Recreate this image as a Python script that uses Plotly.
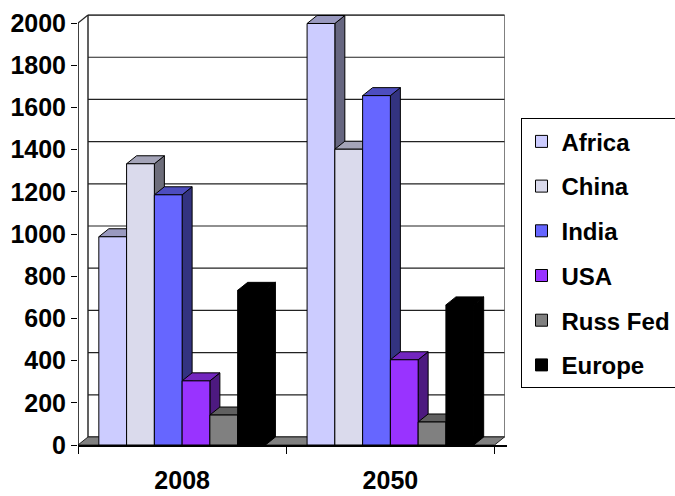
import plotly.graph_objects as go

categories = ["2008", "2050"]
series_names = ["Africa", "China", "India", "USA", "Russ Fed", "Europe"]
africa = [987, 1998]
china = [1333, 1402]
india = [1186, 1656]
usa = [304, 404]
russ_fed = [142, 109]
europe = [733, 664]
y_ticks = [0, 200, 400, 600, 800, 1000, 1200, 1400, 1600, 1800, 2000]

values = [africa, china, india, usa, russ_fed, europe]
front_colors = ["#CCCCFF", "#DADAEC", "#6666FF", "#9933FF", "#808080", "#000000"]
top_colors = ["#9999BF", "#A4A4B8", "#4D4DBF", "#7326BF", "#606060", "#000000"]
side_colors = ["#666680", "#6D6D7A", "#333380", "#4D1A80", "#404040", "#000000"]

n = len(series_names)
group_w = 0.8
bw = group_w / n
DX = 0.048   # depth offset (x units)
DY = 38      # depth offset (y units)
YMAX = 2000

fig = go.Figure()
shapes = []

def path(pts):
    return "M " + " L ".join(f"{x},{y}" for x, y in pts) + " Z"

# back wall
shapes.append(dict(type="path", xref="x", yref="y", layer="below",
                   path=path([(-0.5 + DX, DY), (1.5 + DX, DY), (1.5 + DX, YMAX + DY), (-0.5 + DX, YMAX + DY)]),
                   fillcolor="white", line=dict(color="#808080", width=1)))
# gridlines on back wall
for t in y_ticks:
    shapes.append(dict(type="line", xref="x", yref="y", layer="below",
                       x0=-0.5 + DX, x1=1.5 + DX, y0=t + DY, y1=t + DY,
                       line=dict(color="#222222", width=1.2)))
# left wall edges
shapes.append(dict(type="line", xref="x", yref="y", layer="below",
                   x0=-0.5 + DX, x1=-0.5 + DX, y0=DY, y1=YMAX + DY, line=dict(color="#222222", width=1.2)))
shapes.append(dict(type="line", xref="x", yref="y", layer="below",
                   x0=-0.5, x1=-0.5 + DX, y0=YMAX, y1=YMAX + DY, line=dict(color="#222222", width=1.2)))
# floor
shapes.append(dict(type="path", xref="x", yref="y", layer="below",
                   path=path([(-0.5, 0), (1.5, 0), (1.5 + DX, DY), (-0.5 + DX, DY)]),
                   fillcolor="#808080", line=dict(color="#222222", width=1)))

# 3D faces of each bar
for c in range(len(categories)):
    for i in range(n):
        v = values[i][c]
        xl = c - group_w / 2 + bw * i
        xr = xl + bw
        lc = "#000000"
        shapes.append(dict(type="path", xref="x", yref="y", layer="below",
                           path=path([(xr, 0), (xr + DX, DY), (xr + DX, v + DY), (xr, v)]),
                           fillcolor=side_colors[i], line=dict(color=lc, width=1)))
        shapes.append(dict(type="path", xref="x", yref="y", layer="below",
                           path=path([(xl, v), (xr, v), (xr + DX, v + DY), (xl + DX, v + DY)]),
                           fillcolor=top_colors[i], line=dict(color=lc, width=1)))

# front faces as bars
for i, name in enumerate(series_names):
    xs = [c - group_w / 2 + bw * (i + 0.5) for c in range(len(categories))]
    fig.add_trace(go.Bar(
        x=xs, y=values[i], width=bw, name=name, legendgroup=name,
        marker=dict(color=front_colors[i], line=dict(color="#000000", width=1)),
    ))

# front y-axis line
shapes.append(dict(type="line", xref="x", yref="y", x0=-0.5, x1=-0.5, y0=0, y1=YMAX,
                   line=dict(color="#000000", width=1.5)))

font_main = dict(family="Liberation Sans, Arial", size=25, color="#000000", weight="bold")
font_legend = dict(family="Liberation Sans, Arial", size=24, color="#000000", weight="bold")

fig.update_layout(
    width=675, height=496, autosize=False,
    margin=dict(l=78, r=168, t=14, b=51, autoexpand=False),
    paper_bgcolor="white", plot_bgcolor="white",
    barmode="overlay",
    shapes=shapes,
    showlegend=True,
    legend=dict(x=1.0315, y=0.758, xanchor="left", yanchor="top",
                font=font_legend, bordercolor="#000000", borderwidth=1,
                bgcolor="white", tracegroupgap=10.5, traceorder="grouped"),
    xaxis=dict(range=[-0.5, 1.5 + DX + 0.012], tickvals=[0, 1], ticktext=categories,
               showgrid=False, zeroline=False, showline=True, linecolor="#000000", linewidth=1.5,
               ticks="", tickfont=font_main, ticklabelstandoff=12,
               minor=dict(tickvals=[-0.5, 0.5, 1.5], ticks="outside", ticklen=7,
                          tickcolor="#000000", tickwidth=1, showgrid=False)),
    yaxis=dict(range=[0, 2043], tickvals=y_ticks, showgrid=False, zeroline=False,
               showline=False, ticks="outside", ticklen=6, tickcolor="#000000", tickwidth=1,
               tickfont=font_main),
)

fig.write_html("out.html")
